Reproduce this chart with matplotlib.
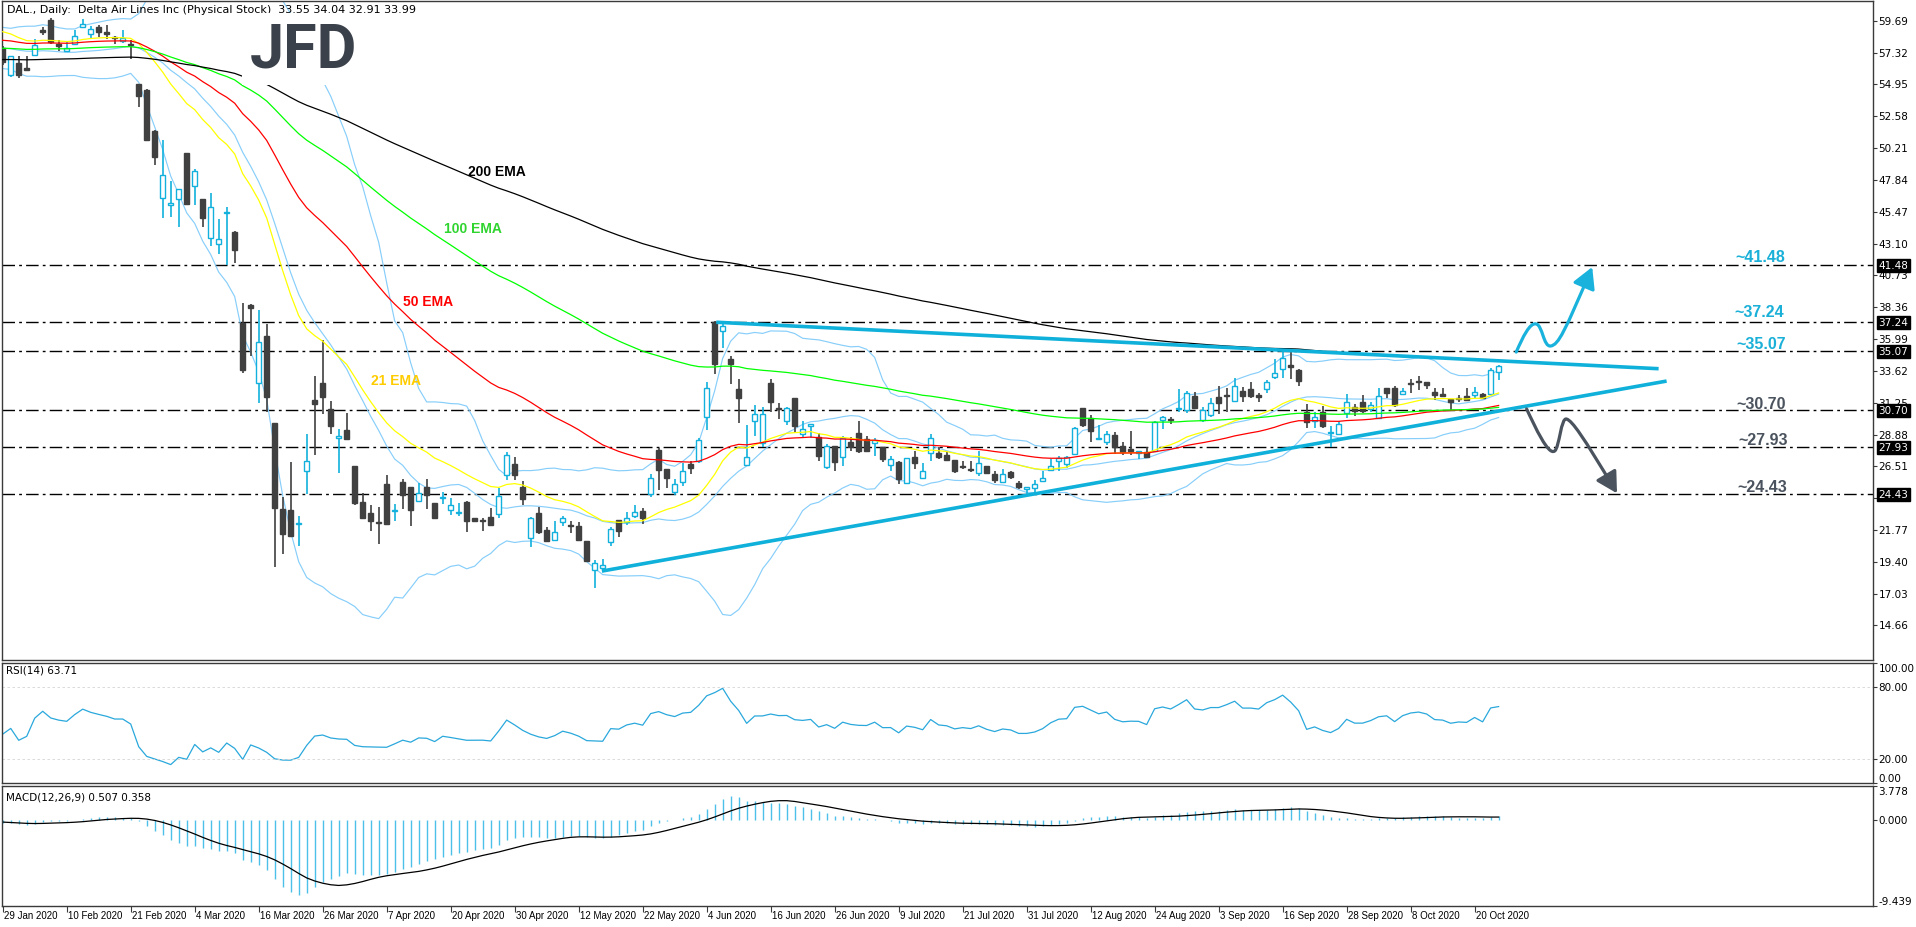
import numpy as np
import matplotlib
matplotlib.use("Agg")
import matplotlib.pyplot as plt
from matplotlib.path import Path
from matplotlib.patches import FancyArrowPatch

# ---------------- data ----------------
opens = [57.65, 55.62, 56.58, 56.18, 57.14, 58.98, 59.71, 57.93, 57.45, 57.99,
         59.26, 58.73, 59.21, 58.84, 58.45, 58.16, 57.93, 54.97, 54.55, 51.50,
         46.47, 45.94, 46.42, 49.86, 47.38, 46.42, 43.48, 43.09, 45.35, 43.96,
         37.19, 38.51, 32.75, 36.25, 29.76, 23.35, 23.27, 22.19, 26.18, 31.46,
         32.73, 30.78, 28.63, 29.23, 26.54, 23.89, 23.02, 22.35, 25.17, 23.20,
         25.36, 24.99, 23.94, 24.99, 23.81, 24.16, 23.27, 23.00, 23.89, 22.63,
         22.45, 22.75, 22.97, 25.86, 26.67, 24.97, 21.20, 23.07, 21.79, 21.05,
         22.38, 22.14, 22.09, 20.98, 18.76, 18.93, 20.86, 22.51, 22.33, 22.78,
         23.22, 24.43, 27.70, 26.32, 24.60, 25.36, 26.69, 26.94, 30.22, 37.24,
         36.57, 34.53, 32.24, 26.64, 29.85, 28.22, 32.68, 30.83, 29.85, 31.57,
         28.94, 29.48, 28.67, 26.47, 28.05, 27.19, 28.32, 28.99, 28.54, 28.25,
         27.93, 26.60, 26.84, 25.27, 27.21, 25.64, 27.51, 27.51, 27.39, 26.96,
         26.52, 26.24, 26.00, 26.52, 25.91, 25.34, 26.10, 25.29, 24.82, 24.87,
         25.41, 26.23, 26.89, 26.72, 27.46, 30.83, 30.10, 28.54, 28.30, 28.86,
         28.00, 27.78, 27.49, 27.59, 27.68, 29.97, 30.00, 30.80, 30.71, 31.77,
         29.97, 30.34, 31.65, 31.85, 31.38, 32.14, 32.24, 31.85, 32.27, 33.13,
         33.74, 34.09, 33.72, 30.59, 29.85, 30.59, 29.00, 28.91, 30.47, 30.96,
         31.33, 30.79, 30.10, 32.36, 32.36, 31.90, 32.68, 32.86, 32.81, 32.07,
         31.92, 31.50, 31.55, 31.77, 31.82, 31.87, 31.90, 33.55]
highs = [57.80, 57.10, 57.09, 57.09, 58.36, 59.20, 59.91, 58.22, 58.08, 59.01,
         59.85, 59.29, 59.40, 59.40, 58.56, 58.98, 58.22, 54.97, 54.60, 51.55,
         50.82, 47.77, 47.15, 49.86, 48.68, 46.42, 46.87, 44.95, 45.80, 44.05,
         38.68, 38.57, 38.12, 37.10, 29.76, 24.20, 26.83, 22.79, 28.94, 33.23,
         35.92, 31.34, 29.28, 30.49, 26.54, 24.54, 23.64, 23.49, 25.86, 23.69,
         25.54, 24.99, 25.24, 25.54, 23.81, 24.62, 24.13, 23.79, 23.94, 22.70,
         22.70, 23.44, 24.92, 27.58, 27.19, 25.41, 22.75, 23.49, 22.01, 22.46,
         22.80, 22.46, 22.38, 20.98, 19.50, 19.62, 21.96, 22.51, 23.12, 23.64,
         23.44, 25.91, 27.88, 26.32, 25.54, 26.74, 26.94, 28.62, 32.80, 37.30,
         37.24, 34.72, 32.98, 29.58, 31.08, 30.96, 33.05, 31.20, 30.96, 31.57,
         29.85, 29.63, 28.99, 28.17, 28.05, 28.79, 28.67, 29.85, 28.79, 28.62,
         27.93, 27.26, 26.89, 27.11, 27.63, 26.77, 28.91, 27.93, 27.68, 26.96,
         26.89, 26.89, 27.68, 26.52, 26.15, 26.28, 26.20, 25.42, 24.97, 25.46,
         26.20, 27.02, 27.26, 27.26, 29.41, 30.88, 30.34, 29.60, 29.11, 29.04,
         28.32, 29.11, 27.66, 27.93, 29.85, 30.29, 30.22, 32.26, 32.10, 32.02,
         30.96, 31.62, 32.51, 32.36, 33.10, 32.44, 32.76, 31.94, 32.93, 34.53,
         35.15, 35.15, 33.79, 31.13, 30.54, 31.03, 29.48, 29.90, 31.90, 31.13,
         31.82, 31.28, 32.36, 32.36, 32.51, 32.36, 33.05, 33.25, 32.81, 32.36,
         32.31, 31.50, 31.82, 32.31, 32.44, 31.94, 33.84, 34.04]
lows = [56.40, 55.50, 55.39, 55.96, 57.09, 58.60, 57.99, 57.45, 57.37, 57.88,
        59.18, 58.36, 58.50, 58.30, 57.99, 58.02, 56.81, 53.28, 50.71, 48.96,
        45.00, 45.06, 44.33, 46.02, 45.97, 44.33, 42.92, 42.35, 41.51, 41.68,
        33.43, 34.73, 31.23, 30.55, 19.03, 19.97, 21.24, 20.61, 24.43, 27.39,
        30.41, 28.94, 25.98, 28.46, 23.64, 22.56, 21.66, 20.73, 22.16, 22.46,
        23.32, 22.09, 23.84, 23.32, 22.65, 23.69, 22.90, 22.80, 21.59, 22.33,
        21.72, 22.09, 22.70, 25.49, 25.49, 23.64, 20.53, 21.47, 20.98, 20.98,
        22.09, 21.54, 21.05, 19.38, 17.48, 18.64, 20.58, 21.28, 22.16, 22.65,
        22.21, 24.26, 24.72, 24.92, 24.38, 25.07, 25.91, 26.74, 29.23, 33.42,
        35.34, 32.61, 29.72, 26.52, 28.74, 27.95, 30.59, 30.05, 29.60, 28.99,
        28.62, 28.62, 26.94, 26.28, 26.20, 26.57, 27.63, 27.51, 27.58, 27.26,
        26.84, 26.20, 25.17, 25.22, 26.28, 25.64, 26.89, 27.02, 26.89, 25.98,
        26.28, 26.10, 25.78, 25.91, 25.29, 25.29, 25.54, 24.80, 24.43, 24.48,
        25.37, 26.15, 26.15, 26.40, 27.39, 29.43, 28.32, 28.54, 28.12, 27.44,
        27.39, 27.39, 27.02, 27.19, 27.63, 29.31, 29.65, 30.54, 30.50, 30.79,
        29.80, 30.15, 30.42, 30.59, 31.38, 31.33, 31.57, 31.33, 31.94, 33.05,
        33.10, 33.05, 32.51, 29.36, 29.36, 29.36, 27.93, 28.81, 30.10, 30.29,
        30.47, 30.59, 30.05, 31.57, 30.96, 31.82, 31.94, 32.19, 32.26, 31.45,
        31.65, 30.71, 31.28, 31.38, 31.62, 31.52, 31.82, 32.91]
closes = [56.61, 57.03, 55.68, 55.99, 57.85, 58.84, 58.08, 57.82, 57.68, 58.58,
          59.43, 59.09, 58.87, 58.67, 58.39, 58.39, 57.88, 54.12, 50.82, 49.58,
          48.17, 46.13, 47.15, 46.08, 48.51, 45.00, 45.80, 43.42, 45.45, 42.63,
          33.66, 38.29, 35.77, 31.68, 23.44, 21.46, 21.29, 22.26, 26.88, 31.17,
          31.68, 29.51, 28.74, 28.52, 23.78, 22.65, 22.45, 22.30, 22.21, 23.26,
          24.38, 23.24, 24.53, 24.35, 22.70, 24.21, 23.64, 23.02, 22.41, 22.43,
          22.43, 22.14, 24.30, 27.33, 25.86, 24.06, 22.63, 21.59, 20.98, 21.64,
          22.70, 22.06, 21.05, 19.43, 19.33, 19.20, 21.87, 21.72, 22.70, 23.12,
          22.65, 25.66, 26.27, 25.61, 25.22, 26.15, 26.35, 28.44, 32.36, 34.13,
          36.99, 34.11, 31.62, 27.19, 30.41, 30.44, 31.28, 30.76, 30.83, 29.53,
          29.31, 29.63, 27.31, 28.00, 26.84, 28.62, 27.95, 27.68, 27.63, 28.47,
          27.02, 27.04, 25.59, 27.11, 26.79, 26.15, 28.59, 27.21, 26.99, 26.18,
          26.45, 26.22, 26.77, 25.98, 25.46, 25.91, 25.71, 24.97, 24.97, 25.17,
          25.64, 26.52, 27.11, 27.19, 29.36, 29.60, 29.11, 28.62, 28.94, 27.95,
          27.59, 27.68, 27.66, 27.24, 29.80, 30.17, 29.93, 30.84, 31.99, 30.84,
          30.71, 31.20, 31.20, 31.77, 32.51, 31.75, 31.75, 31.65, 32.81, 33.47,
          34.58, 33.87, 32.85, 29.80, 30.22, 29.51, 29.06, 29.70, 31.33, 30.64,
          30.64, 31.08, 31.77, 31.94, 31.08, 32.12, 32.63, 32.81, 32.56, 31.82,
          31.75, 31.33, 31.50, 31.45, 32.07, 31.57, 33.72, 33.99]

# closes of the 20 sessions before the first visible bar (only used to seed the indicators)
pre_closes = [58.0, 58.3, 57.7, 57.5, 57.8, 58.2, 58.6, 58.8, 58.4, 58.6,
              58.2, 58.4, 58.0, 57.4, 57.0, 56.5, 56.2, 56.8, 57.2, 57.0]
# EMA values just before the first visible bar, read from the left edge
ema_seed = {21: 59.1, 50: 58.3, 100: 57.66, 200: 56.80}

date_labels = ["29 Jan 2020", "10 Feb 2020", "21 Feb 2020", "4 Mar 2020", "16 Mar 2020",
               "26 Mar 2020", "7 Apr 2020", "20 Apr 2020", "30 Apr 2020", "12 May 2020",
               "22 May 2020", "4 Jun 2020", "16 Jun 2020", "26 Jun 2020", "9 Jul 2020",
               "21 Jul 2020", "31 Jul 2020", "12 Aug 2020", "24 Aug 2020", "3 Sep 2020",
               "16 Sep 2020", "28 Sep 2020", "8 Oct 2020", "20 Oct 2020"]
label_step = 8

levels = [41.48, 37.24, 35.07, 30.70, 27.93, 24.43]
level_text = ["~41.48", "~37.24", "~35.07", "~30.70", "~27.93", "~24.43"]
level_text_col = ["#1ab0d8", "#1ab0d8", "#1ab0d8", "#4a535e", "#4a535e", "#4a535e"]
level_text_y = [42.12, 38.02, 35.62, 31.22, 28.54, 25.02]
level_text_x = [219.7, 219.6, 219.8, 219.8, 220.1, 220.0]

price_ticks = [59.69, 57.32, 54.95, 52.58, 50.21, 47.84, 45.47, 43.10, 40.73, 38.36,
               35.99, 33.62, 31.25, 28.88, 26.51, 24.14, 21.77, 19.40, 17.03, 14.66]
rsi_ticks = [100.0, 80.0, 20.0, 0.0]
macd_ticks = [3.778, 0.0, -9.439]

trend_down_x = [89.2, 207.0]
trend_down_y = [37.24, 33.78]
trend_up_x = [74.9, 208.0]
trend_up_y = [18.71, 32.86]

# scenario arrows (bar index, price) bezier control points
up_arrow_x = [189.2, 190.0, 190.9, 191.7, 192.5, 192.6, 193.5, 194.5, 195.3, 198.7]
up_arrow_y = [35.02, 36.10, 37.25, 37.11, 37.00, 35.40, 35.47, 35.55, 36.60, 41.35]
dn_arrow_x = [190.5, 191.6, 193.2, 194.0, 194.6, 194.8, 195.5, 196.2, 197.5, 201.8]
dn_arrow_y = [30.78, 29.40, 27.30, 27.65, 27.90, 30.20, 30.03, 29.90, 28.80, 24.50]

ema_labels = ["200 EMA", "100 EMA", "50 EMA", "21 EMA"]
ema_label_x = [61.8, 58.8, 53.2, 49.2]
ema_label_y = [48.50, 44.29, 38.82, 32.94]
ema_label_col = ["#000000", "#2fd42f", "#ff0000", "#ffcc00"]

# ---------------- indicators ----------------
def ema(values, n, start):
    a = 2.0 / (n + 1)
    out, prev = [], start
    for v in values:
        prev = prev + a * (v - prev)
        out.append(prev)
    return np.array(out)

cl = np.array(closes)
ext = np.array(pre_closes + closes)
npre = len(pre_closes)
N = len(closes)
x = np.arange(N)

emas = {n: ema(closes, n, ema_seed[n]) for n in (21, 50, 100, 200)}

bb_mid, bb_up, bb_lo = [], [], []
for i in range(npre, npre + N):
    w = ext[i - 19:i + 1]
    m = w.mean(); s = w.std()
    bb_mid.append(m); bb_up.append(m + 2 * s); bb_lo.append(m - 2 * s)

diff = np.diff(ext)
gain = np.clip(diff, 0, None); loss = np.clip(-diff, 0, None)
ag = gain[:14].mean(); al = loss[:14].mean()
rsi_ext = [np.nan] * 15
for k in range(14, len(diff)):
    ag = (ag * 13 + gain[k]) / 14
    al = (al * 13 + loss[k]) / 14
    rsi_ext.append(100 - 100 / (1 + ag / al) if al > 0 else 100)
rsi = np.array(rsi_ext)[npre:]

e12 = ema(ext, 12, ext[0]); e26 = ema(ext, 26, ext[0])
macd_ext = e12 - e26
sig_ext = np.array([macd_ext[max(0, i - 8):i + 1].mean() for i in range(len(macd_ext))])
macd = macd_ext[npre:]; signal = sig_ext[npre:]

# ---------------- figure ----------------
W, H = 1916, 928
fig = plt.figure(figsize=(W / 100, H / 100), dpi=100)
fig.patch.set_facecolor("white")

def rect(l, t, r, b):
    return [l / W, 1 - b / H, (r - l) / W, (b - t) / H]

AX_L, AX_R = 2, 1873
ax = fig.add_axes(rect(AX_L, 2, AX_R, 661))
ax_r = fig.add_axes(rect(AX_L, 664, AX_R, 784))
ax_m = fig.add_axes(rect(AX_L, 787, AX_R, 907))

XL = (-0.09, 233.8)
edge = "#3a3a3a"
for a in (ax, ax_r, ax_m):
    a.set_xlim(*XL)
    a.set_facecolor("white")
    for s in a.spines.values():
        s.set_color(edge); s.set_linewidth(1.0)
    a.tick_params(axis="y", which="both", left=False, right=True, direction="out",
                  length=3, width=0.8, color=edge, labelleft=False, labelright=False)
    a.tick_params(axis="x", bottom=False, labelbottom=False)

ax.set_ylim(12.09, 61.16)
ax_r.set_ylim(0, 100)
ax_m.set_ylim(-9.439, 3.778)

CYAN = "#12b0dc"
DARK = "#404040"
bull = cl >= np.array(opens)
wick_cols = [CYAN if b else DARK for b in bull]
ax.vlines(x, lows, highs, colors=wick_cols, lw=1.2, zorder=3)
body_lo = np.minimum(opens, closes)
body_h = np.maximum(np.abs(cl - np.array(opens)), 0.08)
ax.bar(x, body_h, bottom=body_lo, width=0.62,
       color=["white" if b else DARK for b in bull],
       edgecolor=[CYAN if b else DARK for b in bull], linewidth=1.0, zorder=4)

BB = "#87cefa"
ax.plot(x, bb_up, color=BB, lw=0.85, zorder=2)
ax.plot(x, bb_mid, color=BB, lw=0.85, zorder=2)
ax.plot(x, bb_lo, color=BB, lw=0.85, zorder=2)
ax.plot(x, emas[21], color="#ffff00", lw=0.9, zorder=5)
ax.plot(x, emas[50], color="#ff0000", lw=0.9, zorder=5)
ax.plot(x, emas[100], color="#00ff00", lw=0.9, zorder=5)
ax.plot(x, emas[200], color="#000000", lw=0.9, zorder=5)

for lv in levels:
    ax.axhline(lv, color="black", lw=1.0, linestyle=(0, (9, 3, 2, 3)), zorder=1)

ax.plot(trend_down_x, trend_down_y, color="#0fb0da", lw=2.6, solid_capstyle="butt", zorder=6)
ax.plot(trend_up_x, trend_up_y, color="#0fb0da", lw=2.6, solid_capstyle="butt", zorder=6)

def bez(xs, ys):
    verts = list(zip(xs, ys))
    codes = [Path.MOVETO] + [Path.CURVE4] * (len(verts) - 1)
    return Path(verts, codes)

for xs, ys, col in ((up_arrow_x, up_arrow_y, "#18b2dc"), (dn_arrow_x, dn_arrow_y, "#4a535e")):
    arr = FancyArrowPatch(path=bez(xs, ys), arrowstyle="-|>,head_length=0.9,head_width=0.5",
                          mutation_scale=14, color=col, lw=2.3, transform=ax.transData, zorder=7)
    ax.add_patch(arr)

BOLDFONT = ["Liberation Sans", "DejaVu Sans"]
for t, tx, ty, c in zip(level_text, level_text_x, level_text_y, level_text_col):
    ax.text(tx, ty, t, color=c, fontsize=11.5, fontweight="bold", family=BOLDFONT,
            ha="center", va="center", zorder=8)

for t, tx, ty, c in zip(ema_labels, ema_label_x, ema_label_y, ema_label_col):
    ax.text(tx, ty, t, color=c, fontsize=10, fontweight="bold", family=BOLDFONT,
            ha="center", va="center", zorder=8)

# right axis price scale
ax.set_yticks(price_ticks)
for v in price_ticks:
    ax.annotate(f"{v:.2f}", xy=(1, v), xycoords=("axes fraction", "data"),
                xytext=(4, 0), textcoords="offset points", ha="left", va="center",
                fontsize=7.5, color="black", annotation_clip=False)
for lv in levels:
    ax.annotate(f"{lv:.2f}", xy=(1, lv), xycoords=("axes fraction", "data"),
                xytext=(4, 0), textcoords="offset points", ha="left", va="center",
                fontsize=7.5, color="white", annotation_clip=False, zorder=10,
                bbox=dict(boxstyle="square,pad=0.15", fc="black", ec="black"))

# RSI pane
ax_r.plot(x, rsi, color="#2aa8dc", lw=0.9)
for lv in (80, 20):
    ax_r.axhline(lv, color="#d4d4d4", lw=0.6, linestyle=(0, (3, 3)))
ax_r.set_yticks(rsi_ticks)
for v in rsi_ticks:
    va = "top" if v == 100 else ("bottom" if v == 0 else "center")
    ax_r.annotate(f"{v:.2f}", xy=(1, v), xycoords=("axes fraction", "data"),
                  xytext=(4, 0), textcoords="offset points", ha="left", va=va,
                  fontsize=7.5, color="black", annotation_clip=False)

# MACD pane
ax_m.vlines(x, 0, macd, colors="#4cc0e8", lw=1.0)
ax_m.plot(x, signal, color="black", lw=0.9)
ax_m.set_yticks(macd_ticks)
for v in macd_ticks:
    va = "top" if v > 3 else ("bottom" if v < -9 else "center")
    ax_m.annotate(f"{v:.3f}", xy=(1, v), xycoords=("axes fraction", "data"),
                  xytext=(4, 0), textcoords="offset points", ha="left", va=va,
                  fontsize=7.5, color="black", annotation_clip=False)

# date axis
tick_pos = [k * label_step for k in range(len(date_labels))]
ax_m.set_xticks(tick_pos)
ax_m.tick_params(axis="x", bottom=True, direction="out", length=4, width=0.8, color=edge,
                 labelbottom=False)
for p, lab in zip(tick_pos, date_labels):
    ax_m.annotate(lab, xy=(p, 0), xycoords=("data", "axes fraction"), xytext=(1.0, -3),
                  textcoords="offset points", ha="left", va="top", fontsize=7,
                  family=["Liberation Sans", "DejaVu Sans"],
                  color="black", annotation_clip=False)

# texts
fig.text(7 / W, 1 - 10 / H,
         "DAL., Daily:  Delta Air Lines Inc (Physical Stock)  33.55 34.04 32.91 33.99",
         fontsize=8, color="black", ha="left", va="center")
fig.text(6 / W, 1 - 671 / H, "RSI(14) 63.71", fontsize=7.5, color="black", ha="left", va="center")
fig.text(6 / W, 1 - 798 / H, "MACD(12,26,9) 0.507 0.358", fontsize=7.5, color="black",
         ha="left", va="center")
fig.text(303 / W, 1 - 50 / H, "JFD", fontsize=44, fontweight="bold", family="Roboto",
         color="#3b414a", ha="center", va="center", zorder=20,
         bbox=dict(boxstyle="square,pad=0.12", fc="white", ec="none"))

fig.savefig("out.png", dpi=100, facecolor="white")
